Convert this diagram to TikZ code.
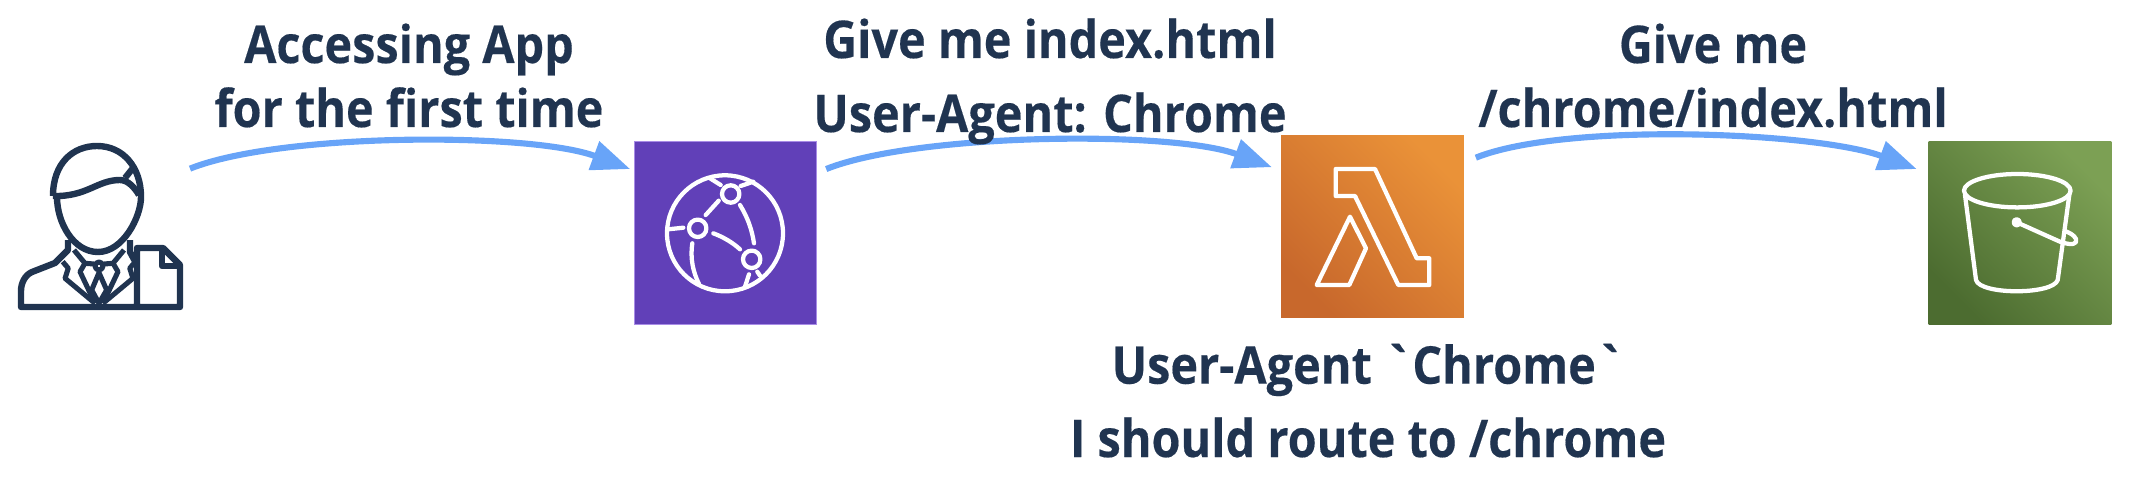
\documentclass[tikz,border=0pt]{standalone}
\usepackage{fontspec}
\setmainfont[FakeStretch=0.9,Ligatures=TeXOff,BoldFeatures={FakeBold=0.3}]{Open Sans}
\usetikzlibrary{arrows.meta}
\definecolor{inkblue}{RGB}{32,52,80}
\definecolor{flowblue}{RGB}{104,164,248}
\definecolor{cdnpurple}{RGB}{97,64,184}
\definecolor{cdnedge}{RGB}{168,140,230}
\definecolor{orangelow}{RGB}{200,104,44}
\definecolor{orangehigh}{RGB}{234,146,56}
\definecolor{greenlow}{RGB}{76,108,48}
\definecolor{greenhigh}{RGB}{124,160,84}
\tikzset{
	caption/.style={font=\bfseries\fontsize{39}{48}\selectfont,text=inkblue,align=center,inner sep=0pt,anchor=base},
	flow/.style={draw=flowblue,line width=4.6pt,-{Triangle[length=29pt,width=22pt,fill=flowblue]}},
	awsbox/.style={minimum size=137pt,inner sep=0pt,outer sep=0pt},
	glyph/.style={draw=white,line width=3.2pt,line join=round,line cap=round},
	usr/.style={draw=inkblue,line width=4.8pt,line join=round},
	thinusr/.style={draw=inkblue,line width=3.8pt,line join=round}
}
\begin{document}
\begin{tikzpicture}[x=0.75pt,y=0.75pt,yscale=-1,xscale=1]
	\useasboundingbox (0,0) rectangle (2132,478);
	% user
	\node [awsbox,minimum size=125pt] (user) at (100,227) {};
	\draw [usr] (53,196) .. controls (53,163) and (73,146) .. (97,146) .. controls (123,146) and (141,167) .. (141,197) .. controls (141,217) and (123,252) .. (98,252) .. controls (73,252) and (57,222) .. (57,197);
	\draw [usr] (53,196) .. controls (87,197) and (97,180) .. (120,180) .. controls (128,180) and (135,188) .. (139,195);
	\draw [usr] (125,178) -- (133,168);
	\draw [usr] (68,240) -- (68,250) -- (55,263) -- (32,272) .. controls (25,275) and (21,283) .. (21,291) -- (21,307) -- (180,307) -- (180,265) -- (163,248) -- (137,248) -- (137,307);
	\draw [usr] (162,248) -- (162,266) -- (180,266);
	\draw [usr] (130,240) -- (130,252) -- (135.3,261.7);
	\draw [thinusr] (62.7,261.7) -- (68.3,268.3) -- (65,278.3) -- (95,303.3);
	\draw [thinusr] (135.3,261.7) -- (129.7,268.3) -- (133,278.3) -- (103,303.3);
	\draw [thinusr] (74,250) -- (85,263.3) -- (80,271.7) -- (95,303.3);
	\draw [thinusr] (124,250) -- (113,263.3) -- (118,271.7) -- (103,303.3);
	\draw [thinusr] (99,272.7) -- (91.7,290) -- (99,303.3) -- (106.7,290) -- cycle;
	\draw [thinusr] (99,266) circle (4);
	\draw [thinusr] (85,263.3) -- (94,264);
	\draw [thinusr] (113,263.3) -- (104,264);
	% services
	\node [awsbox,fill=cdnpurple,draw=cdnedge,line width=0.75pt] (cdn) at (725.5,233) {};
	\node [awsbox,bottom color=orangelow,top color=orangehigh,shading angle=-45] (lambda) at (1372.5,226.5) {};
	\node [awsbox,bottom color=greenlow,top color=greenhigh,shading angle=-45] (bucket) at (2020,233) {};
	% cdn globe
	\draw [glyph] (725,233.3) circle (58);
	\draw [glyph] (730.7,194) circle (8.7);
	\draw [glyph] (697.7,228.3) circle (8.7);
	\draw [glyph] (751.7,259.3) circle (8.7);
	\draw [glyph] (718.7,200.7) -- (705.7,215);
	\draw [glyph] (713.3,233.3) .. controls (723,237) and (732,242) .. (740,249.3);
	\draw [glyph] (740,205) .. controls (748,218) and (752,230) .. (754,243.3);
	\draw [glyph] (683.3,227.7) -- (668.3,229.3);
	\draw [glyph] (692.3,243.3) .. controls (690,258) and (693,272) .. (699,284);
	\draw [glyph] (710,178.3) -- (720.7,185);
	\draw [glyph] (740.7,186) -- (753.3,181.7);
	\draw [glyph] (749,274.3) -- (745,286.7);
	\draw [glyph] (757.3,271.7) -- (760,275.7);
	% lambda sign
	\draw [glyph] (1335.7,169) -- (1375,169) -- (1416.7,258.3) -- (1429.3,258.3) -- (1429.3,285) -- (1398.3,285) -- (1355,196) -- (1335.7,196) -- cycle;
	\draw [glyph] (1350,216.7) -- (1366,248.3) -- (1349.3,285) -- (1316.7,285) -- cycle;
	% bucket
	\draw [glyph] (2017.3,190.7) ellipse (53.3 and 16.7);
	\draw [glyph] (1965,195) -- (1976,280) .. controls (1980,295) and (2053,295) .. (2057.7,280) -- (2069.3,195);
	\draw [glyph] (2016.7,222.3) circle (3);
	\draw [glyph] (2016.7,222.3) -- (2060,241.7) .. controls (2072,246) and (2078,244) .. (2076,239) .. controls (2074,235) and (2070,233) .. (2065,231);
	% flows
	\draw [flow] ([xshift=5pt]user.35) .. controls +(90,-36) and +(-100,-37) .. ([xshift=-3pt]cdn.145);
	\draw [flow] ([xshift=7pt]cdn.35) .. controls +(90,-36) and +(-100,-37) .. ([xshift=-7pt]lambda.147);
	\draw [flow] ([xshift=9pt]lambda.37) .. controls +(90,-36) and +(-100,-37) .. ([xshift=-9pt]bucket.145);
	% captions
	\node [caption] (first) at (409,127) {Accessing App\\for the first time};
	\node [caption] (ask) at (1050,132) {Give me index.html\\[7.5pt]User-Agent: Chrome};
	\node [caption] (fetch) at (1713,127) {Give me\\/chrome/index.html};
	\node [caption] (route) at (1368,457) {User-Agent `Chrome`\\[7pt]I should route to /chrome};
\end{tikzpicture}
\end{document}
